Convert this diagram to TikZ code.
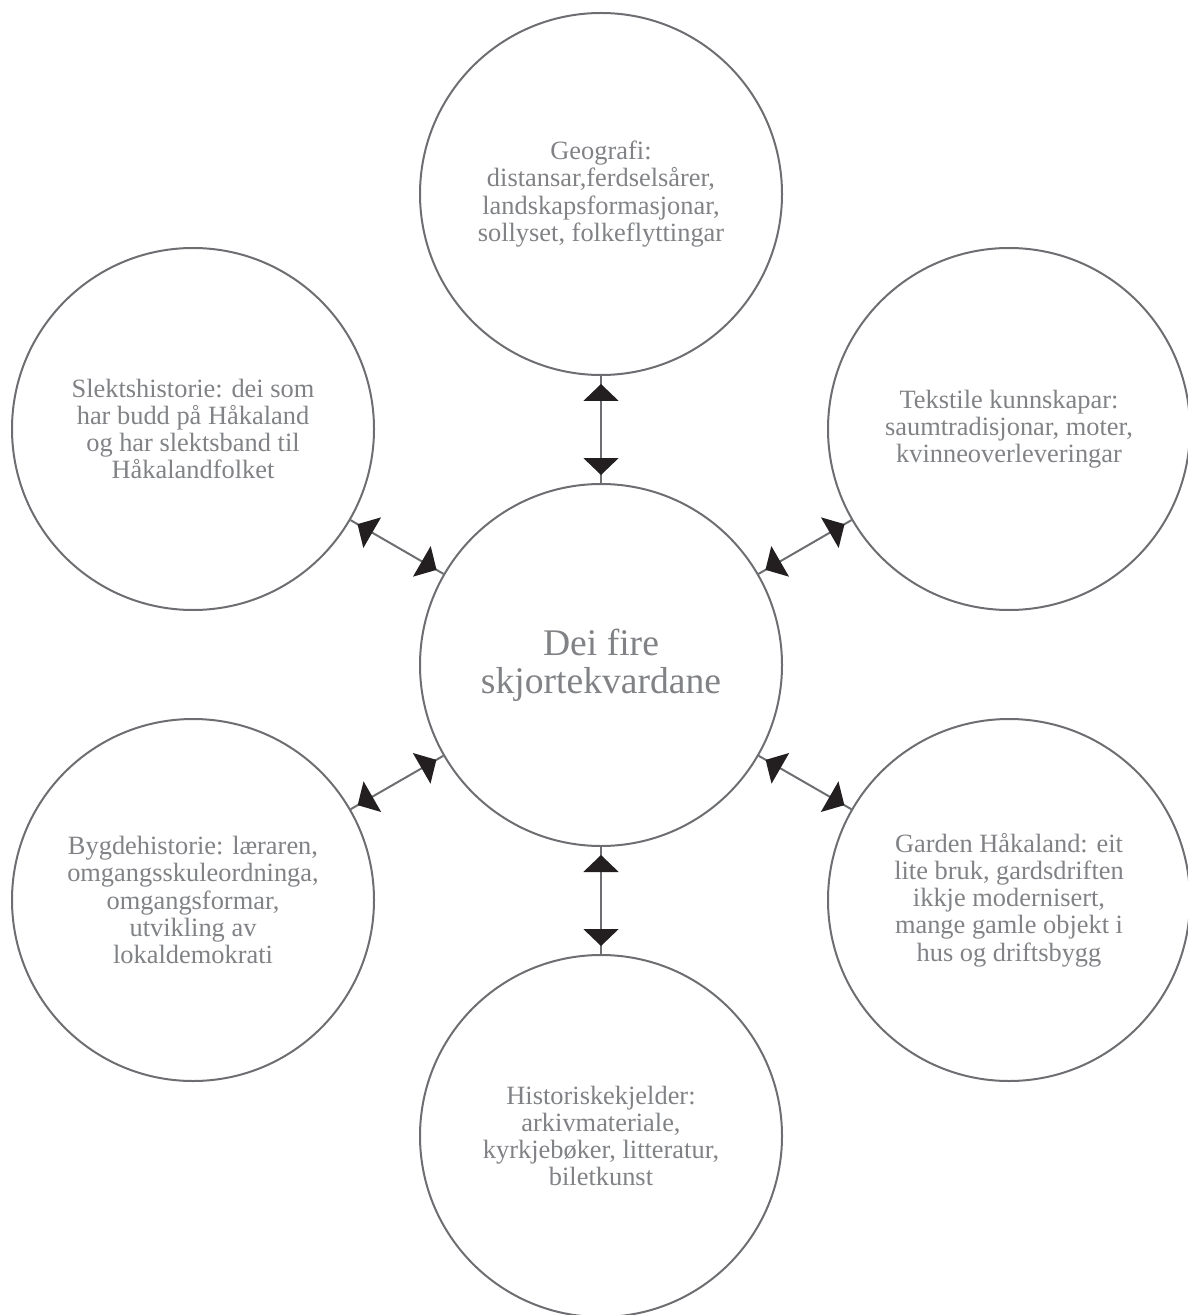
\documentclass[tikz,border=0pt]{standalone}
\usepackage{fontspec}
\setmainfont{Liberation Serif}
\usetikzlibrary{arrows.meta,decorations.markings}
\definecolor{textgray}{RGB}{128,130,133}
\definecolor{linegray}{RGB}{109,110,113}
\definecolor{tipblack}{RGB}{35,31,32}
\tikzset{
  topic/.style={circle, draw=linegray, line width=1pt, minimum size=181pt, inner sep=0pt,
    align=center, text=textgray, font=\fontsize{13.2}{13.6}\selectfont},
  hub/.style={topic, font=\fontsize{18.8}{19}\selectfont},
  link/.style={draw=linegray, line width=1pt, postaction=decorate,
    decoration={markings,
      mark=at position 4pt with {\arrowreversed{Triangle[length=8.5pt,width=17.5pt,color=tipblack]}},
      mark=at position -4pt with {\arrow{Triangle[length=8.5pt,width=17.5pt,color=tipblack]}}}}
}
\begin{document}
\begin{tikzpicture}[x=0.5pt,y=-0.5pt]
\useasboundingbox (0,0) rectangle (1187,1315);
\node[hub] (c) at (601,665) {Dei fire\\skjortekvardane};
\node[topic] (geo) at (601,194) {Geografi:\\distansar,ferdselsårer,\\landskapsformasjonar,\\sollyset, folkeflyttingar};
\node[topic] (tek) at (1009,429) {Tekstile kunnskapar:\\saumtradisjonar, moter,\\kvinneoverleveringar};
\node[topic] (gar) at (1009,900) {Garden Håkaland: eit\\lite bruk, gardsdriften\\ikkje modernisert,\\mange gamle objekt i\\hus og driftsbygg};
\node[topic] (his) at (601,1136) {Historiskekjelder:\\arkivmateriale,\\kyrkjebøker, litteratur,\\biletkunst};
\node[topic] (byg) at (193,900) {Bygdehistorie: læraren,\\omgangsskuleordninga,\\omgangsformar,\\utvikling av\\lokaldemokrati};
\node[topic] (sle) at (193,429) {Slektshistorie: dei som\\har budd på Håkaland\\og har slektsband til\\Håkalandfolket};
\draw[link] (c) -- (geo);
\draw[link] (c) -- (tek);
\draw[link] (c) -- (gar);
\draw[link] (c) -- (his);
\draw[link] (c) -- (byg);
\draw[link] (c) -- (sle);
\end{tikzpicture}
\end{document}
